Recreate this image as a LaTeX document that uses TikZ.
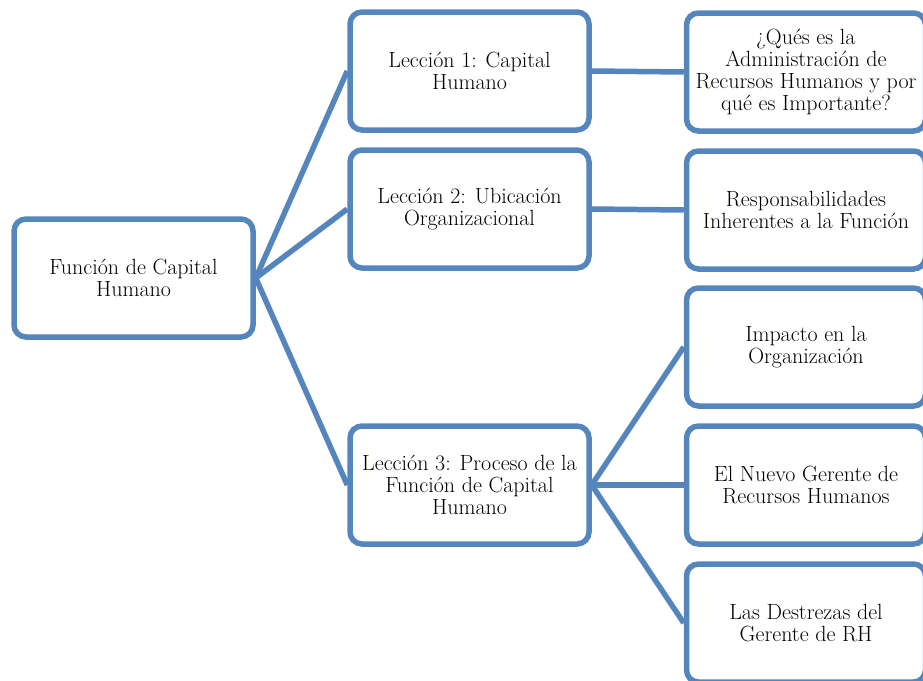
\documentclass[tikz,border=0pt]{standalone}
\usepackage{xcolor}

\definecolor{boxblue}{RGB}{84,134,189}
\tikzstyle{box}=[rectangle, rounded corners=12pt, draw=boxblue, line width=5.5pt, minimum width=239pt, minimum height=118pt, align=center, inner sep=1pt, font=\fontsize{22}{22}\selectfont]

\begin{document}
\begin{tikzpicture}[x=1pt, y=-1pt]
        \useasboundingbox (0, 0) rectangle (923, 680);

        \node[box](funcion) at (133.5, 278) {Función de Capital\\Humano};

        \node[box](leccion1) at (469.5, 71) {Lección 1: Capital\\Humano};
        \node[box](leccion2) at (469.5, 209) {Lección 2: Ubicación\\Organizacional};
        \node[box](leccion3) at (469.5, 485) {Lección 3: Proceso de la\\Función de Capital\\Humano};

        \node[box](admin) at (806, 72) {¿Qués es la\\Administración de\\Recursos Humanos y por\\qué es Importante?};
        \node[box](resp) at (806, 210) {Responsabilidades\\Inherentes a la Función};
        \node[box](impacto) at (806, 347) {Impacto en la\\Organización};
        \node[box](gerente) at (806, 485) {El Nuevo Gerente de\\Recursos Humanos};
        \node[box](destrezas) at (806, 623) {Las Destrezas del\\Gerente de RH};

        \begin{scope}[every path/.style={-, draw=boxblue, line width=5.5pt}]
            \draw (funcion.east) -- (leccion1.west);
            \draw (funcion.east) -- (leccion2.west);
            \draw (funcion.east) -- (leccion3.west);

            \draw (leccion1.east) -- (admin.west);
            \draw (leccion2.east) -- (resp.west);

            \draw (leccion3.east) -- (impacto.west);
            \draw (leccion3.east) -- (gerente.west);
            \draw (leccion3.east) -- (destrezas.west);
        \end{scope}
    \end{tikzpicture}
\end{document}
